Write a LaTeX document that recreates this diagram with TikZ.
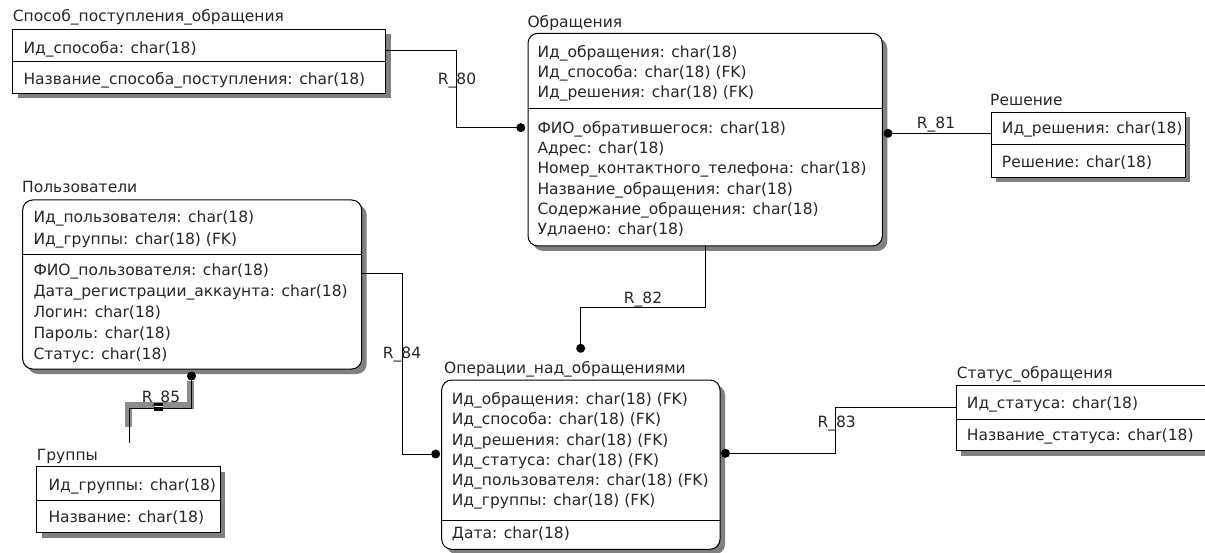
\documentclass[tikz,border=0pt]{standalone}
\usepackage{fontspec}
\setmainfont{DejaVu Sans}
\usetikzlibrary{shadows}

% rows of attribute text inside an entity: prefix, x, first baseline, step, list
\newcommand\fieldrows[5]{%
  \foreach \txt [count=\k] in {#5}{%
    \node[field] (#1\k) at (#2,{#3+(\k-1)*#4}) {\txt};}}

\tikzset{
  ent/.style={draw=black, line width=1pt, fill=white, anchor=north west,
    inner sep=0pt, outer sep=0pt,
    drop shadow={shadow xshift=5pt, shadow yshift=-5pt, fill=black!50, opacity=1}},
  depent/.style={ent, rounded corners=10pt},
  etitle/.style={anchor=base west, inner sep=0pt},
  field/.style={anchor=base west, inner sep=0pt},
  divline/.style={line width=1pt},
  conn/.style={line width=1pt, black},
  reldot/.style={circle, fill=black, inner sep=0pt, minimum size=9pt},
  rlabel/.style={anchor=base, inner sep=0pt},
  band/.style={line width=6.5pt, black!45},
}

\begin{document}
\begin{tikzpicture}[x=1pt, y=-1pt,
  every node/.append style={font=\fontsize{15.5}{19}\selectfont, text=black!85}]
\useasboundingbox (0,0) rectangle (1205,553);

% ---------- R_85 (highlighted) ----------
\draw[band] (190.3,381) -- (190.3,405.5) -- (128.3,405.5) -- (128.3,426.7);

% ---------- entities ----------
% Способ_поступления_обращения
\node[ent, minimum width=373pt, minimum height=64pt] (sp) at (12.7,29.3) {};
\draw[divline] ([yshift=-32.7pt]sp.north west) -- ([yshift=-32.7pt]sp.north east);
\node[etitle] (sp-t) at (12.7,21.5) {Способ\_поступления\_обращения};
\node[field] (sp1) at (23.3,53.2) {Ид\_способа: char(18)};
\node[field] (sp2) at (23.3,84.5) {Название\_способа\_поступления: char(18)};

% Обращения
\node[depent, minimum width=354.3pt, minimum height=212.7pt] (obr) at (528,33.3) {};
\draw[divline] ([yshift=-75pt]obr.north west) -- ([yshift=-75pt]obr.north east);
\node[etitle] (obr-t) at (527.3,27.2) {Обращения};
\fieldrows{obrk}{537.3}{57.2}{20.3}{Ид\_обращения: char(18), Ид\_способа: char(18) (FK), Ид\_решения: char(18) (FK)}
\fieldrows{obrn}{537.3}{133.2}{20.3}{ФИО\_обратившегося: char(18), Адрес: char(18), Номер\_контактного\_телефона: char(18), Название\_обращения: char(18), Содержание\_обращения: char(18), Удлаено: char(18)}

% Решение
\node[ent, minimum width=194pt, minimum height=65pt] (resh) at (991,112.3) {};
\draw[divline] ([yshift=-32.7pt]resh.north west) -- ([yshift=-32.7pt]resh.north east);
\node[etitle] (resh-t) at (990,105.5) {Решение};
\node[field] (resh1) at (1001.7,133.8) {Ид\_решения: char(18)};
\node[field] (resh2) at (1001.7,167.2) {Решение: char(18)};

% Пользователи
\node[depent, minimum width=339pt, minimum height=169pt] (pol) at (22.7,200) {};
\draw[divline] ([yshift=-54.3pt]pol.north west) -- ([yshift=-54.3pt]pol.north east);
\node[etitle] (pol-t) at (22,192.8) {Пользователи};
\fieldrows{polk}{33.3}{222.8}{21.5}{Ид\_пользователя: char(18), Ид\_группы: char(18) (FK)}
\fieldrows{poln}{33.3}{275.5}{21.1}{ФИО\_пользователя: char(18), Дата\_регистрации\_аккаунта: char(18), Логин: char(18), Пароль: char(18), Статус: char(18)}

% Группы
\node[ent, minimum width=183.3pt, minimum height=66pt] (grp) at (36.7,466.7) {};
\draw[divline] ([yshift=-34pt]grp.north west) -- ([yshift=-34pt]grp.north east);
\node[etitle] (grp-t) at (36.7,460.5) {Группы};
\node[field] (grp1) at (48.3,490.5) {Ид\_группы: char(18)};
\node[field] (grp2) at (48.3,522.2) {Название: char(18)};

% Операции_над_обращениями
\node[depent, minimum width=278.3pt, minimum height=169.3pt] (oper) at (441.7,380) {};
\draw[divline] ([yshift=-140.7pt]oper.north west) -- ([yshift=-140.7pt]oper.north east);
\node[etitle] (oper-t) at (444,373.8) {Операции\_над\_обращениями};
\fieldrows{operk}{451.7}{404.8}{20.15}{Ид\_обращения: char(18) (FK), Ид\_способа: char(18) (FK), Ид\_решения: char(18) (FK), Ид\_статуса: char(18) (FK), Ид\_пользователя: char(18) (FK), Ид\_группы: char(18) (FK)}
\node[field] (oper7) at (451.7,538.8) {Дата: char(18)};

% Статус_обращения
\node[ent, minimum width=260pt, minimum height=65.7pt] (stat) at (956,385) {};
\draw[divline] ([yshift=-34pt]stat.north west) -- ([yshift=-34pt]stat.north east);
\node[etitle] (stat-t) at (956.7,378.8) {Статус\_обращения};
\node[field] (stat1) at (966.7,408.8) {Ид\_статуса: char(18)};
\node[field] (stat2) at (966.7,440.5) {Название\_статуса: char(18)};

% ---------- relationships ----------
% R_80
\node[reldot] (d80) at (520.8,127.7) {};
\coordinate (b80) at (456.7,50.7);
\draw[conn] (sp.east |- b80) -- (b80) |- (d80.center);
\node[rlabel] (l80) at (457,84.5) {R\_80};

% R_81
\node[reldot] (d81) at (888,133.3) {};
\draw[conn] (d81.center) -- (resh.west |- d81);
\node[rlabel] (l81) at (936,128.2) {R\_81};

% R_82
\node[reldot] (d82) at (580.7,348.3) {};
\coordinate (b82) at (705,307.3);
\draw[conn] (obr.south -| b82) -- (b82) -| (d82.center);
\node[rlabel] (l82) at (643,303.8) {R\_82};

% R_84
\node[reldot] (d84) at (435.7,454) {};
\coordinate (b84) at (402.3,273.3);
\draw[conn] (pol.east |- b84) -- (b84) |- (d84.center);
\node[rlabel] (l84) at (402,358.8) {R\_84};

% R_83
\node[reldot] (d83) at (725.5,453.3) {};
\coordinate (b83) at (835.7,407.3);
\draw[conn] (d83.center) -| (b83) -- (stat.west |- b83);
\node[rlabel] (l83) at (836.7,427.2) {R\_83};

% R_85
\node[reldot] (d85) at (191.5,376) {};
\coordinate (b85) at (129.3,408.3);
\coordinate (e85) at (129.3,443.3);
\draw[conn] (d85.center) |- (b85) -- (e85);
\node[rectangle, fill=black, inner sep=0pt, minimum width=9pt, minimum height=8pt,
  path picture={\draw[white, line width=1.4pt]
    (path picture bounding box.west) -- (path picture bounding box.east);}]
  (m85) at (158.8,406.7) {};
\node[rlabel] (l85) at (161,402.2) {R\_85};
\end{tikzpicture}
\end{document}
